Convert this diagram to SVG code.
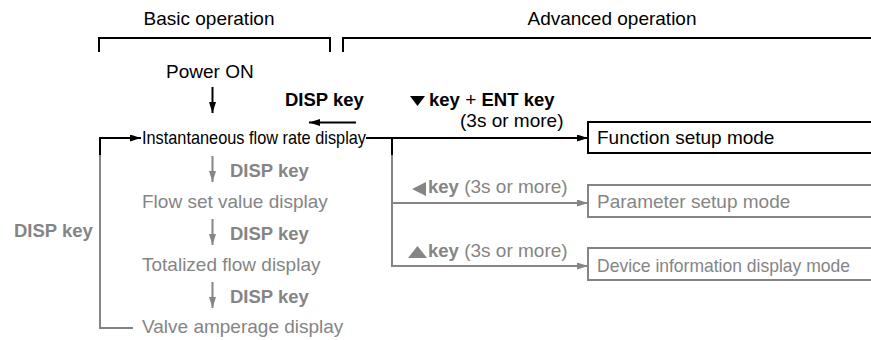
<svg xmlns="http://www.w3.org/2000/svg" width="871" height="340" viewBox="0 0 871 340">
<defs>
<style>
text{font-family:"Liberation Sans",Arial,Helvetica,sans-serif;font-size:19px}
.b{font-weight:bold;font-size:18.5px}
.r{font-weight:normal;font-size:19px}
.k{fill:#000}
.g{fill:#858585}
.lk{stroke:#000;stroke-width:2;fill:none}
.lg{stroke:#858585;stroke-width:2;fill:none}
.bx{fill:#fff;stroke-width:2}
</style>
<marker id="ak" markerUnits="userSpaceOnUse" markerWidth="11" markerHeight="7" refX="11" refY="3.5" orient="auto"><path d="M0,0L11,3.5L0,7z" fill="#000"/></marker>
<marker id="ag" markerUnits="userSpaceOnUse" markerWidth="11" markerHeight="7" refX="11" refY="3.5" orient="auto"><path d="M0,0L11,3.5L0,7z" fill="#858585"/></marker>
</defs>

<g id="headers">
<text class="k" x="209" y="25" text-anchor="middle">Basic operation</text>
<text class="k" x="612" y="25" text-anchor="middle">Advanced operation</text>
<path class="lk" d="M99,52V38H330V52"/>
<path class="lk" d="M343,52V38H871"/>
</g>

<g id="connectors">
<path class="lk" d="M212.5,87V113" marker-end="url(#ak)"/>
<path class="lk" d="M356,122.5H309" marker-end="url(#ak)"/>
<path class="lk" d="M366,138H588" marker-end="url(#ak)"/>
<path class="lk" d="M392,138V155"/>
<path class="lg" d="M392,155V266H588" marker-end="url(#ag)"/>
<path class="lg" d="M392,203H588" marker-end="url(#ag)"/>
<path class="lk" d="M100,155V138H141" marker-end="url(#ak)"/>
<path class="lg" d="M100,155V328H133"/>
<path class="lg" d="M212.5,156V182" marker-end="url(#ag)"/>
<path class="lg" d="M212.5,219V245" marker-end="url(#ag)"/>
<path class="lg" d="M212.5,282V308" marker-end="url(#ag)"/>
</g>

<g id="labels">
<text class="b k" x="285" y="106">DISP key</text>
<polygon points="410,96 425,96 417.5,106" fill="#000"/>
<text class="b k" x="429" y="106">key<tspan class="r"> + </tspan>ENT key</text>
<text class="k" x="460" y="127">(3s or more)</text>
<polygon points="426,182 426,196 412,189" fill="#858585"/>
<text class="b g" x="428" y="193">key<tspan class="r"> (3s or more)</tspan></text>
<polygon points="408,258 427,258 417.5,246" fill="#858585"/>
<text class="b g" x="428" y="257">key<tspan class="r"> (3s or more)</tspan></text>
<text class="b g" x="14" y="237">DISP key</text>
<text class="b g" x="230" y="177">DISP key</text>
<text class="b g" x="230" y="240">DISP key</text>
<text class="b g" x="230" y="303">DISP key</text>
</g>

<g id="power-on"><text class="k" x="166" y="78">Power ON</text></g>
<g id="instantaneous"><text class="k" x="142" y="144" textLength="224" lengthAdjust="spacingAndGlyphs">Instantaneous flow rate display</text></g>
<g id="flow-set"><text class="g" x="142" y="207.5">Flow set value display</text></g>
<g id="totalized"><text class="g" x="142" y="270.5">Totalized flow display</text></g>
<g id="valve"><text class="g" x="142" y="333">Valve amperage display</text></g>

<g id="function-setup">
<rect class="bx" x="588" y="122" width="300" height="31" stroke="#000"/>
<text class="k" x="597" y="144">Function setup mode</text>
</g>
<g id="parameter-setup">
<rect class="bx" x="588" y="185" width="300" height="32" stroke="#858585"/>
<text class="g" x="597" y="207.5">Parameter setup mode</text>
</g>
<g id="device-info">
<rect class="bx" x="588" y="248" width="300" height="32" stroke="#858585"/>
<text class="g" x="597" y="271.5" textLength="253" lengthAdjust="spacingAndGlyphs">Device information display mode</text>
</g>
</svg>
